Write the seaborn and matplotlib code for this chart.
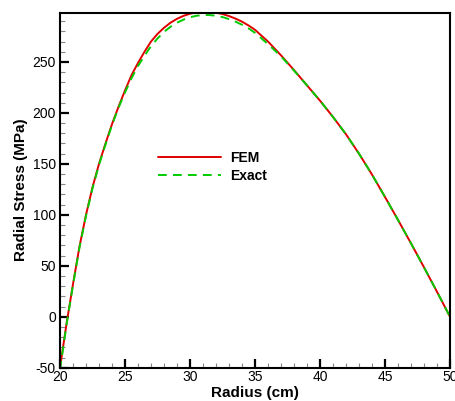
import numpy as np
import pandas as pd
import matplotlib
matplotlib.use("Agg")
import matplotlib.pyplot as plt
from matplotlib.ticker import MultipleLocator
import seaborn as sns

# ---- data ----
radius = [20, 20.5, 21, 21.5, 22, 22.5, 23, 23.5, 24, 24.5, 25, 25.5, 26, 26.5,
          27, 27.5, 28, 28.5, 29, 29.5, 30, 30.5, 31, 31.5, 32, 32.5, 33, 33.5,
          34, 34.5, 35, 36, 37, 38, 39, 40, 41, 42, 43, 44, 45, 46, 47, 48, 49, 50]
fem = [-50, -7, 32, 69, 100, 127, 150, 170, 189, 206, 222, 237, 249, 260,
       270, 277.5, 283.5, 288.5, 292.3, 295.2, 297.3, 298.6, 299.1, 299, 298.3,
       297, 295, 292.5, 289.5, 285.8, 281.5, 270, 256.5, 242, 227, 212,
       196, 179, 160, 139.5, 117.5, 95, 72, 48.5, 24.5, 0]
exact = [-52, -8, 31, 68, 99, 126, 149, 169, 188, 205, 220, 234, 246, 256,
         265.5, 273, 279.5, 284.5, 288.5, 291.5, 293.8, 295.3, 296, 296, 295.3,
         294, 292, 289.5, 286.5, 283, 278.5, 267.5, 255.5, 241.5, 227, 212,
         196, 179, 160, 139.5, 117.5, 95, 72, 48.5, 24.5, 0]
series_names = ["FEM", "Exact"]
x_ticks = [20, 25, 30, 35, 40, 45, 50]
y_ticks = [-50, 0, 50, 100, 150, 200, 250]

df = pd.DataFrame({"Radius": radius * 2,
                   "Stress": fem + exact,
                   "Series": [series_names[0]] * len(radius) + [series_names[1]] * len(radius)})

sns.set_style("ticks")
plt.rcParams["font.family"] = ["Liberation Sans", "DejaVu Sans"]
plt.rcParams["axes.unicode_minus"] = False
plt.rcParams["text.color"] = "black"
plt.rcParams["axes.labelcolor"] = "black"
plt.rcParams["xtick.color"] = "black"
plt.rcParams["ytick.color"] = "black"

fig = plt.figure(figsize=(4.55, 4.01), dpi=100)
fig.patch.set_facecolor("white")
ax = fig.add_axes([60 / 455, (401 - 367.7) / 401, 390 / 455, (367.7 - 12.5) / 401])

sns.lineplot(data=df[df.Series == "FEM"], x="Radius", y="Stress", ax=ax,
             color="#E00000", lw=1.4, label="FEM", sort=False)
sns.lineplot(data=df[df.Series == "Exact"], x="Radius", y="Stress", ax=ax,
             color="#00CC00", lw=1.4, label="Exact", sort=False,
             linestyle=(0, (4.5, 3.2)))

ax.set_xlim(20, 50)
ax.set_ylim(-50, 298.5)
ax.set_xticks(x_ticks)
ax.set_yticks(y_ticks)
ax.xaxis.set_minor_locator(MultipleLocator(1))
ax.yaxis.set_minor_locator(MultipleLocator(10))
ax.tick_params(which="major", direction="in", length=6.5, width=1.6,
               labelsize=10, color="black", labelcolor="black", top=False, right=False)
ax.tick_params(which="minor", direction="in", length=3.6, width=0.8,
               color="#888888", top=False, right=False)
ax.tick_params(axis="x", which="major", pad=2)
ax.tick_params(axis="y", which="major", pad=3)
for s in ax.spines.values():
    s.set_linewidth(1.5)
    s.set_color("black")

ax.set_xlabel("Radius (cm)", fontsize=11, fontweight="bold", labelpad=1, color="black")
ax.set_ylabel("Radial Stress (MPa)", fontsize=11, fontweight="bold", labelpad=3, color="black")

leg = ax.legend(loc="upper left", bbox_to_anchor=((158 - 60) / 390, (367.7 - 151) / 355.2),
                frameon=False, borderpad=0, borderaxespad=0, handlelength=4.5,
                handletextpad=0.7, labelspacing=0.3,
                prop={"weight": "bold", "size": 10})
for t in leg.get_texts():
    t.set_color("black")

fig.savefig("out.png", dpi=100, facecolor="white")
